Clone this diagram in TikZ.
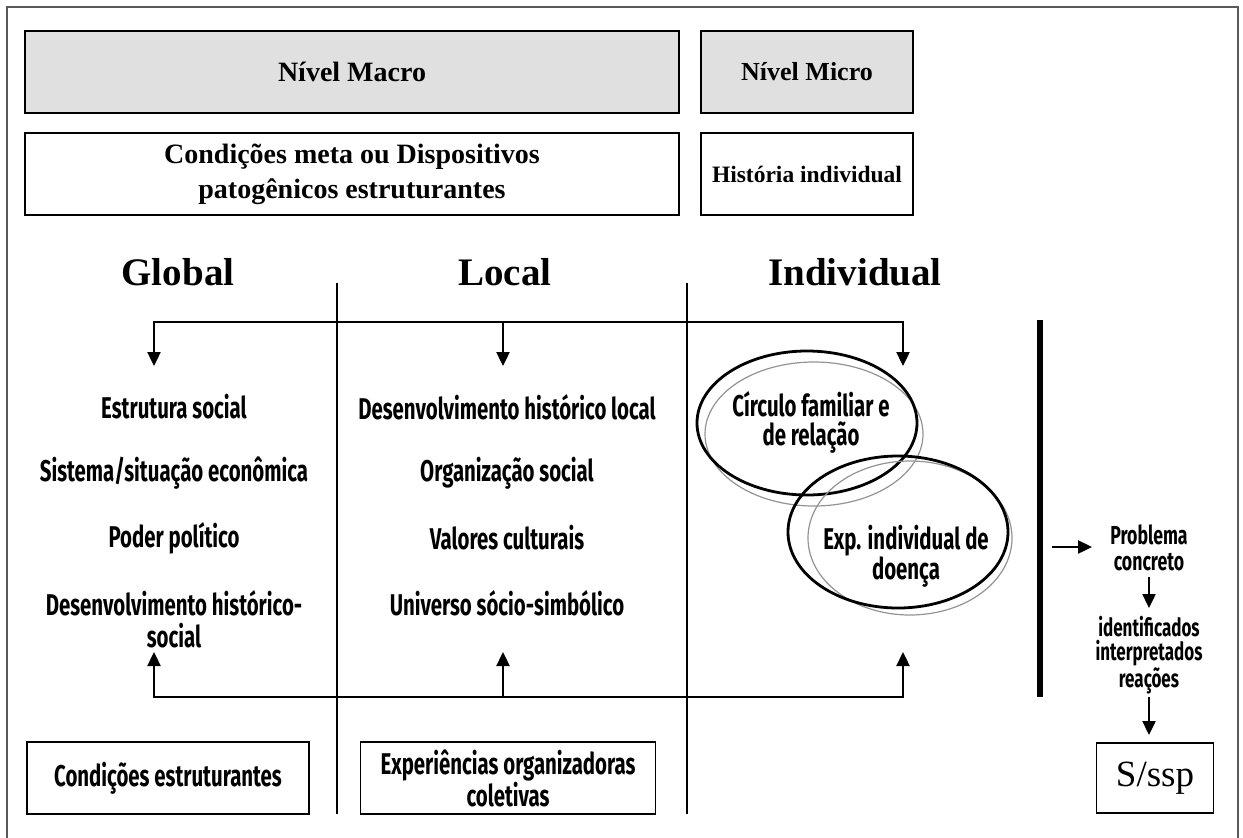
\documentclass[tikz,border=0pt]{standalone}
\usepackage{fontspec}
\setmainfont{Liberation Serif}
\newfontfamily\condsf[FakeStretch=0.68]{Fira Sans}
\usetikzlibrary{arrows.meta,positioning,shapes.geometric}

\tikzset{
  hbox/.style={draw,line width=1.3pt,align=center,inner sep=0pt},
  serifbox/.style={hbox,font=\fontsize{28}{35}\selectfont\bfseries},
  head/.style={font=\fontsize{39}{42}\selectfont\bfseries,anchor=base},
  item/.style={font=\condsf\bfseries\fontsize{30}{32}\selectfont,align=center,inner sep=0pt},
  arr/.style={-{Triangle[length=14pt,width=13pt]},line width=2.4pt},
  ell/.style={ellipse,draw,line width=2.8pt,inner sep=0pt},
  ellgray/.style={ellipse,draw=gray!85,line width=1.2pt,inner sep=0pt}
}

\begin{document}
\begin{tikzpicture}[x=1pt,y=-1pt]
\useasboundingbox (0,0) rectangle (1243,838);
\draw[line width=1.6pt,gray!70!black] (7,860) -- (7,7) -- (1238,7) -- (1238,860);
% top boxes
\node[serifbox,fill=gray!24,minimum width=654pt,minimum height=82pt] (macro) at (352,72) {Nível Macro};
\node[serifbox,font=\fontsize{26}{34}\selectfont\bfseries,fill=gray!24,minimum width=212pt,minimum height=82pt] (micro) at (807,72) {Nível Micro};
\node[serifbox,minimum width=654pt,minimum height=82pt] (meta) at (352,174) {Condições meta ou Dispositivos\\patogênicos estruturantes};
\node[serifbox,font=\fontsize{23.5}{30}\selectfont\bfseries,minimum width=212pt,minimum height=82pt] (hist) at (807,174) {História individual};
% column heads
\node[head] (global) at (178,285) {Global};
\node[head] (local) at (505,285) {Local};
\node[head] (indiv) at (855,285) {Individual};
\foreach \n/\x in {1/337,2/687}{
  \coordinate (v\n a) at (\x,283); \coordinate (v\n b) at (\x,814);
  \draw[line width=1.1pt] (v\n a) -- (v\n b);}
% bracket arrows
\foreach \n/\x in {G/154,L/503,I/903}{
  \coordinate (t\n) at (\x,322); \coordinate (a\n) at (\x,366);
  \coordinate (b\n) at (\x,697); \coordinate (u\n) at (\x,652);
  \draw[arr] (t\n) -- (a\n); \draw[arr] (b\n) -- (u\n);}
\draw[line width=2.4pt,line cap=rect] (tG) -- (tI);
\draw[line width=2.4pt,line cap=rect] (bG) -- (bI);
% column items
\foreach \t/\y/\n in {Estrutura social/407/g1,{Sistema/situação econômica}/473/g2,Poder político/538/g3,{Desenvolvimento histórico-\\social}/619/g4}
  \node[item] (\n) at (174,\y) {\t};
\foreach \t/\y/\n in {Desenvolvimento histórico local/407/l1,Organização social/473/l2,Valores culturais/538/l3,Universo sócio-simbólico/603/l4}
  \node[item] (\n) at (507,\y) {\t};
% ellipses
\node[ellgray,minimum width=218pt,minimum height=144pt] (circg) at (814,434) {};
\node[ell,minimum width=220pt,minimum height=144pt] (circ) at (807,423) {};
\node[item,font=\condsf\bfseries\fontsize{30}{29}\selectfont] (circt) at (811,422) {Círculo familiar e\\de relação};
\node[ellgray,minimum width=204pt,minimum height=154pt] (expg) at (910,538) {};
\node[ell,minimum width=220pt,minimum height=152pt] (exp) at (898,532) {};
\node[item,font=\condsf\bfseries\fontsize{30}{27}\selectfont] (expt) at (906,556) {Exp. individual de\\doença};
% right side
\draw[line width=6pt] (1040,320) coordinate (bar1) -- (1040,697) coordinate (bar2);
\node[item,font=\condsf\bfseries\fontsize{26}{26}\selectfont] (prob) at (1149,548) {Problema\\concreto};
\coordinate (pa) at (1052,547); \coordinate (pb) at (1092,547);
\draw[arr] (pa) -- (pb);
\node[item,font=\condsf\bfseries\fontsize{25}{24}\selectfont] (ident) at (1149,655) {identificados\\interpretados\\reações};
\node[hbox,font=\fontsize{37}{40}\selectfont,minimum width=117pt,minimum height=70pt] (ssp) at (1155,778) {S/ssp};
\coordinate (d1a) at (1149,577); \coordinate (d1b) at (1149,608);
\coordinate (d2a) at (1149,697); \coordinate (d2b) at (1149,735);
\draw[arr] (d1a) -- (d1b); \draw[arr] (d2a) -- (d2b);
% bottom boxes
\node[hbox,font=\condsf\bfseries\fontsize{30}{25}\selectfont,minimum width=282pt,minimum height=72pt] (cestr) at (168,778) {Condições estruturantes};
\node[hbox,font=\condsf\bfseries\fontsize{30}{25}\selectfont,minimum width=295pt,minimum height=72pt] (exper) at (508,778) {Experiências organizadoras\\coletivas};
\end{tikzpicture}
\end{document}
